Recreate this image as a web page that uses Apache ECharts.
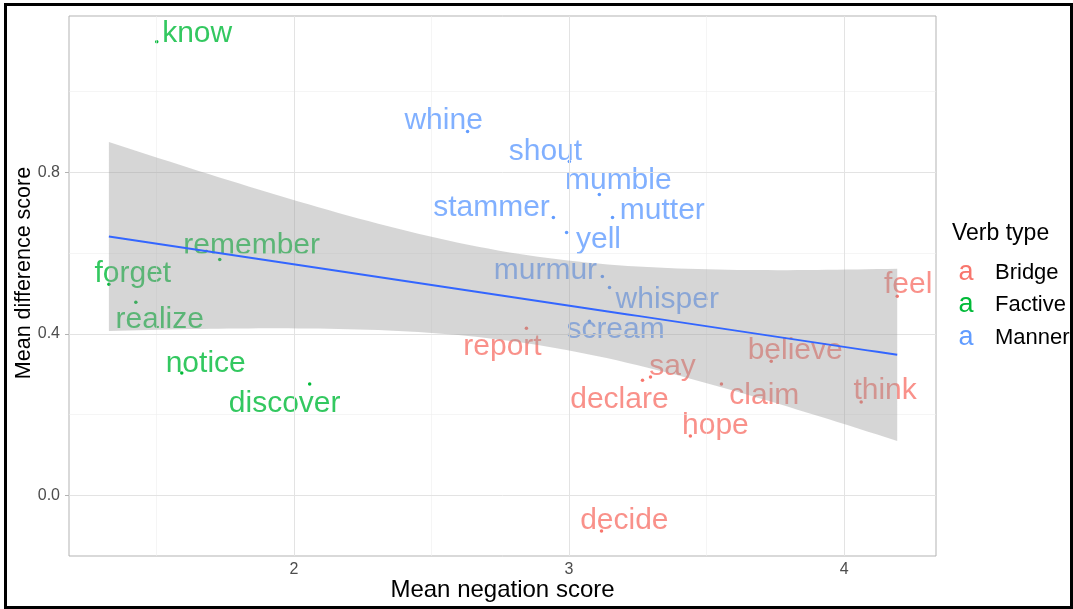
<!DOCTYPE html>
<html>
<head>
<meta charset="utf-8">
<script src="https://cdn.jsdelivr.net/npm/echarts@6/dist/echarts.min.js"></script>
<style>
  html, body { margin: 0; padding: 0; background: #fff; }
  #chart { width: 1073px; height: 609px; }
</style>
</head>
<body>
<div id="chart"></div>
<script>
// ---- data ----
const verbs = ['know','forget','remember','realize','notice','discover',
  'whine','shout','mumble','stammer','mutter','yell','murmur','whisper','scream',
  'feel','report','say','declare','claim','believe','think','hope','decide'];
const verbType = ['Factive','Factive','Factive','Factive','Factive','Factive',
  'Manner','Manner','Manner','Manner','Manner','Manner','Manner','Manner','Manner',
  'Bridge','Bridge','Bridge','Bridge','Bridge','Bridge','Bridge','Bridge','Bridge'];
const negScore = [1.501,1.327,1.730,1.425,1.592,2.057,
  2.631,3.001,3.110,2.943,3.158,2.991,3.121,3.147,3.074,
  4.193,2.845,3.296,3.267,3.554,3.735,4.062,3.441,3.118];
const diffScore = [1.123,0.523,0.584,0.478,0.303,0.276,
  0.901,0.827,0.745,0.688,0.688,0.651,0.542,0.515,0.431,
  0.493,0.414,0.293,0.285,0.276,0.332,0.231,0.147,-0.088];
// label anchor positions (text centres, data units)
const labelX = [1.648,1.414,1.846,1.512,1.679,1.966,
  2.544,2.914,3.179,2.718,3.339,3.107,2.914,3.357,3.169,
  4.233,2.758,3.376,3.183,3.710,3.822,4.149,3.532,3.201];
const labelY = [1.143,0.548,0.618,0.434,0.327,0.228,
  0.928,0.852,0.778,0.713,0.706,0.634,0.557,0.485,0.411,
  0.521,0.369,0.319,0.237,0.247,0.359,0.259,0.173,-0.062];
const groups = ['Bridge','Factive','Manner'];
const xTicks = [2, 3, 4];
const xMinor = [1.5, 2.5, 3.5];
const yTicks = [0, 0.4, 0.8];
const yMinor = [0.2, 0.6, 1.0];

// ---- style ----
const colors = { Bridge: '#F8766D', Factive: '#00BA38', Manner: '#619CFF' };
const FONT = '"Liberation Sans", Arial, Helvetica, sans-serif';

// ---- linear model fit with 95% confidence band (as geom_smooth(method = "lm")) ----
const n = negScore.length;
const mx = negScore.reduce((a, b) => a + b, 0) / n;
const my = diffScore.reduce((a, b) => a + b, 0) / n;
let sxx = 0, sxy = 0;
for (let i = 0; i < n; i++) {
  sxx += (negScore[i] - mx) ** 2;
  sxy += (negScore[i] - mx) * (diffScore[i] - my);
}
const slope = sxy / sxx;
const intercept = my - slope * mx;
let sse = 0;
for (let i = 0; i < n; i++) sse += (diffScore[i] - intercept - slope * negScore[i]) ** 2;
const sigma = Math.sqrt(sse / (n - 2));
const tq = 2.073873; // qt(0.975, df = 22)
const xLo = Math.min(...negScore), xHi = Math.max(...negScore);
const fitPts = [], upper = [], lower = [];
for (let k = 0; k < 80; k++) {
  const x = xLo + (xHi - xLo) * k / 79;
  const f = intercept + slope * x;
  const se = sigma * Math.sqrt(1 / n + (x - mx) ** 2 / sxx);
  fitPts.push([x, f]);
  upper.push([x, f + tq * se]);
  lower.push([x, f - tq * se]);
}

// ---- series ----
const series = [];
// grid lines drawn through the axis scales
series.push({
  type: 'scatter', name: 'grid', data: [], z: 0, silent: true,
  markLine: {
    silent: true, symbol: ['none', 'none'], label: { show: false }, animation: false,
    data: [
      ...xMinor.map(v => ({ xAxis: v, lineStyle: { color: '#efefef', width: 0.6, type: 'solid' } })),
      ...yMinor.map(v => ({ yAxis: v, lineStyle: { color: '#efefef', width: 0.6, type: 'solid' } })),
      ...xTicks.map(v => ({ xAxis: v, lineStyle: { color: '#e3e3e3', width: 1, type: 'solid' } })),
      ...yTicks.map(v => ({ yAxis: v, lineStyle: { color: '#e3e3e3', width: 1, type: 'solid' } }))
    ]
  }
});
groups.forEach(g => {
  const idx = verbs.map((v, i) => i).filter(i => verbType[i] === g);
  series.push({
    type: 'scatter', name: g, z: 3, symbolSize: 3.5,
    itemStyle: { color: colors[g], opacity: 1 },
    data: idx.map(i => ({ value: [negScore[i], diffScore[i]], name: verbs[i] }))
  });
  series.push({
    type: 'scatter', name: g + ' labels', z: 4, symbolSize: 0,
    itemStyle: { color: colors[g] },
    label: {
      show: true, position: 'inside', formatter: '{b}',
      color: colors[g], fontSize: 30, fontFamily: FONT,
      align: 'center', verticalAlign: 'middle'
    },
    data: idx.map(i => ({ value: [labelX[i], labelY[i]], name: verbs[i] }))
  });
});
// confidence band
series.push({
  type: 'custom', name: 'band', z: 5, silent: true,
  data: [0],
  renderItem: (params, api) => {
    const pts = upper.map(p => api.coord(p)).concat(lower.slice().reverse().map(p => api.coord(p)));
    return { type: 'polygon', shape: { points: pts }, style: { fill: 'rgba(153,153,153,0.4)', stroke: 'none' } };
  }
});
// fitted line
series.push({
  type: 'line', name: 'fit', z: 6, silent: true, showSymbol: false, symbol: 'none',
  lineStyle: { color: '#3366FF', width: 2 },
  data: fitPts
});

const legendKey = { Bridge: 'kb', Factive: 'kf', Manner: 'km' };
const option = {
  animation: false,
  backgroundColor: '#ffffff',
  textStyle: { fontFamily: FONT },
  title: {
    text: 'Verb type', left: 952, top: 222, padding: 0,
    textStyle: { fontSize: 23, fontWeight: 'normal', color: '#000', fontFamily: FONT }
  },
  legend: {
    data: groups, orient: 'vertical', left: 953, top: 259, padding: 0,
    icon: 'none', itemWidth: 0, itemHeight: 0, itemGap: 5.5,
    selectedMode: false,
    formatter: name => '{' + legendKey[name] + '|a}{t|' + name + '}',
    textStyle: {
      fontFamily: FONT,
      rich: {
        kb: { color: colors.Bridge, fontSize: 27, width: 16, align: 'center', fontFamily: FONT },
        kf: { color: colors.Factive, fontSize: 27, width: 16, align: 'center', fontFamily: FONT },
        km: { color: colors.Manner, fontSize: 27, width: 16, align: 'center', fontFamily: FONT },
        t: { color: '#000', fontSize: 22, padding: [0, 0, 0, 21], fontFamily: FONT }
      }
    }
  },
  grid: {
    left: 69, top: 16, width: 867, height: 540,
    outerBoundsMode: 'none', containLabel: false,
    show: true, borderColor: '#b3b3b3', borderWidth: 1, backgroundColor: 'transparent'
  },
  xAxis: {
    type: 'value', min: 1.182, max: 4.334,
    name: 'Mean negation score', nameLocation: 'middle', nameGap: 22, nameMoveOverlap: false,
    nameTextStyle: { fontSize: 24, color: '#000', fontFamily: FONT },
    splitLine: { show: false }, axisLine: { show: false },
    axisTick: { show: true, customValues: xTicks, length: 4, lineStyle: { color: '#b3b3b3' } },
    axisLabel: { customValues: xTicks, fontSize: 16, color: '#4d4d4d', margin: 6, fontFamily: FONT, formatter: v => String(v) }
  },
  yAxis: {
    type: 'value', min: -0.150, max: 1.187,
    name: 'Mean difference score', nameLocation: 'middle', nameGap: 34, nameRotate: 90, nameMoveOverlap: false,
    nameTextStyle: { fontSize: 21.5, color: '#000', fontFamily: FONT, padding: [0, 0, 0, 26] },
    splitLine: { show: false }, axisLine: { show: false },
    axisTick: { show: true, customValues: yTicks, length: 4, lineStyle: { color: '#b3b3b3' } },
    axisLabel: { customValues: yTicks, fontSize: 16, color: '#4d4d4d', margin: 9, fontFamily: FONT, formatter: v => v.toFixed(1) }
  },
  graphic: [{
    type: 'rect', silent: true, z: 100,
    shape: { x: 5.5, y: 4.5, width: 1066, height: 603 },
    style: { fill: 'none', stroke: '#000', lineWidth: 3 }
  }],
  series: series
};

const chart = echarts.init(document.getElementById('chart'), null, { renderer: 'canvas' });
chart.setOption(option);
</script>
</body>
</html>
